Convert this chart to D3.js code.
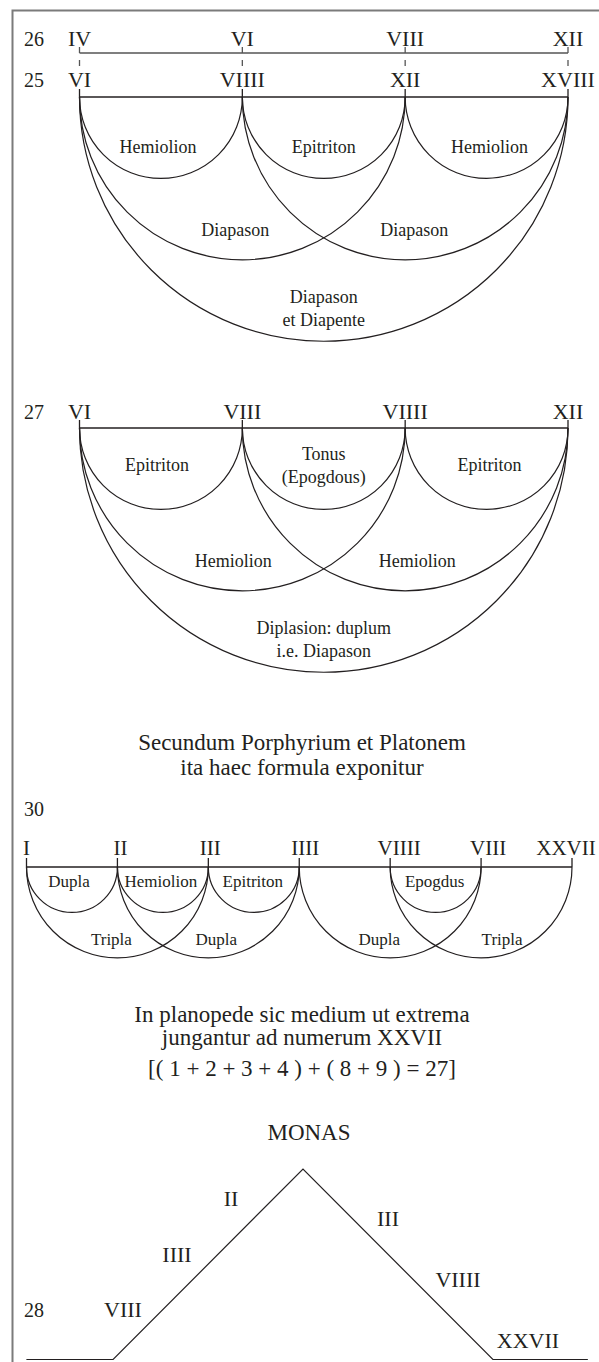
<!DOCTYPE html>
<meta charset="utf-8">
<script src="https://cdn.jsdelivr.net/npm/d3@7"></script>
<style>
  body { margin: 0; background: #fff; }
  text { font-family: "Liberation Serif", "Times New Roman", serif; fill: #231f20; }
</style>
<div id="chart"></div>
<script>
// ---------- data ----------
const row26 = ["IV", "VI", "VIII", "XII"];
const row25 = ["VI", "VIIII", "XII", "XVIII"];
const arcs25 = [
  {from: 0, to: 1, label: ["Hemiolion"]},
  {from: 1, to: 2, label: ["Epitriton"]},
  {from: 2, to: 3, label: ["Hemiolion"]},
  {from: 0, to: 2, label: ["Diapason"]},
  {from: 1, to: 3, label: ["Diapason"]},
  {from: 0, to: 3, label: ["Diapason", "et Diapente"]}
];
const row27 = ["VI", "VIII", "VIIII", "XII"];
const arcs27 = [
  {from: 0, to: 1, label: ["Epitriton"]},
  {from: 1, to: 2, label: ["Tonus", "(Epogdous)"]},
  {from: 2, to: 3, label: ["Epitriton"]},
  {from: 0, to: 2, label: ["Hemiolion"]},
  {from: 1, to: 3, label: ["Hemiolion"]},
  {from: 0, to: 3, label: ["Diplasion: duplum", "i.e. Diapason"]}
];
const row30 = ["I", "II", "III", "IIII", "VIIII", "VIII", "XXVII"];
const arcs30 = [
  {from: 0, to: 1, label: ["Dupla"]},
  {from: 1, to: 2, label: ["Hemiolion"]},
  {from: 2, to: 3, label: ["Epitriton"]},
  {from: 4, to: 5, label: ["Epogdus"]},
  {from: 0, to: 2, label: ["Tripla"]},
  {from: 1, to: 3, label: ["Dupla"]},
  {from: 3, to: 5, label: ["Dupla"]},
  {from: 4, to: 6, label: ["Tripla"]}
];
const lambdaLeft = ["II", "IIII", "VIII"];
const lambdaRight = ["III", "VIIII", "XXVII"];
const figNumbers = ["26", "25", "27", "30", "28"];
const title1 = ["Secundum Porphyrium et Platonem", "ita haec formula exponitur"];
const title2 = ["In planopede sic medium ut extrema", "jungantur ad numerum XXVII",
                "[( 1 + 2 + 3 + 4 ) + ( 8 + 9 ) = 27]"];
const apexLabel = "MONAS";

// ---------- layout ----------
const W = 599, H = 1362;
const ink = "#231f20";
const figY = [46, 87, 419, 816, 1317];

const svg = d3.select("#chart").append("svg")
    .attr("width", W)
    .attr("height", H);

// page frame (top + left rule)
svg.append("path")
    .attr("d", `M${W},10.5H12.5V${H}`)
    .attr("fill", "none")
    .attr("stroke", "#7b7b7b")
    .attr("stroke-width", 2);

// figure numbers
svg.selectAll(".fig")
  .data(figNumbers)
  .join("text")
    .attr("x", 24)
    .attr("y", (d, i) => figY[i])
    .attr("font-size", 20)
    .text(d => d);

// draws a row of numerals on a line with semicircles hanging under it
function arcDiagram(opt) {
  const g = svg.append("g");
  const n = opt.names.length;
  const x = d3.scaleLinear().domain([0, n - 1]).range(opt.range);
  const y0 = opt.lineY;

  g.append("line")
      .attr("x1", x(0)).attr("x2", x(n - 1))
      .attr("y1", y0).attr("y2", y0)
      .attr("stroke", opt.lineColor || ink)
      .attr("stroke-width", 1.3);

  g.selectAll(".tick")
    .data(opt.names)
    .join("line")
      .attr("x1", (d, i) => x(i)).attr("x2", (d, i) => x(i))
      .attr("y1", y0 - opt.tick).attr("y2", y0)
      .attr("stroke", opt.lineColor || ink)
      .attr("stroke-width", 1.3);

  g.selectAll(".name")
    .data(opt.names)
    .join("text")
      .attr("x", (d, i) => x(i) + (opt.nameDx ? opt.nameDx[i] : 0))
      .attr("y", opt.nameY)
      .attr("text-anchor", "middle")
      .attr("font-size", opt.nameSize)
      .text(d => d);

  if (!opt.arcs) return x;

  g.selectAll(".arc")
    .data(opt.arcs)
    .join("path")
      .attr("d", d => {
        const p = d3.path();
        const r = (x(d.to) - x(d.from)) / 2;
        p.moveTo(x(d.from), y0);
        p.arc(x(d.from) + r, y0, r, Math.PI, 0, true);
        return p.toString();
      })
      .attr("fill", "none")
      .attr("stroke", ink)
      .attr("stroke-width", 1.2);

  const lab = g.selectAll(".lab")
    .data(opt.arcs)
    .join("text")
      .attr("text-anchor", "middle")
      .attr("font-size", opt.labelSize)
      .attr("x", (d, i) => (x(d.from) + x(d.to)) / 2 + opt.shift[i])
      .attr("y", d => opt.labelY[d.to - d.from] - (d.label.length - 1) * opt.lineH / 2);
  lab.selectAll("tspan")
    .data(d => d.label)
    .join("tspan")
      .attr("x", function() { return this.parentNode.getAttribute("x"); })
      .attr("dy", (d, i) => i ? opt.lineH : 0)
      .text(d => d);
  return x;
}

// 26 : upper scale, grey, linked to 25 by a broken rule
const x26 = arcDiagram({
  names: row26, range: [79.5, 568], lineY: 53, nameY: 46, tick: 6,
  nameSize: 22, lineColor: "#555"
});
svg.selectAll(".dash")
  .data(row26)
  .join("line")
    .attr("x1", (d, i) => x26(i)).attr("x2", (d, i) => x26(i))
    .attr("y1", 60).attr("y2", 66)
    .attr("stroke", "#555")
    .attr("stroke-width", 1.3);

// 25
arcDiagram({
  names: row25, range: [79.5, 568], lineY: 97, nameY: 87, tick: 8,
  nameSize: 22, arcs: arcs25, labelSize: 18, lineH: 23.5,
  labelY: {1: 153, 2: 236, 3: 314.5},
  shift: [-3, 0, 3, -7, 9, 0]
});

// 27
arcDiagram({
  names: row27, range: [79.5, 568], lineY: 428, nameY: 419, tick: 8,
  nameSize: 22, arcs: arcs27, labelSize: 18, lineH: 23,
  labelY: {1: 471, 2: 567, 3: 645},
  shift: [-4, 0, 3, -9, 12, 0]
});

// titles
svg.selectAll(".t1")
  .data(title1)
  .join("text")
    .attr("x", 302)
    .attr("y", (d, i) => 750 + i * 25)
    .attr("text-anchor", "middle")
    .attr("font-size", 23)
    .text(d => d);

// 30
arcDiagram({
  names: row30, range: [26.5, 572], lineY: 867, nameY: 855, tick: 9,
  nameSize: 21, nameDx: [0, 3, 2, 6, 9, 7, -6],
  arcs: arcs30, labelSize: 17, lineH: 20,
  labelY: {1: 887, 2: 945},
  shift: [-3, -2, -1, -1, -6, 8, -11, 21]
});

svg.selectAll(".t2")
  .data(title2)
  .join("text")
    .attr("x", 302)
    .attr("y", (d, i) => [1022, 1045, 1076][i])
    .attr("text-anchor", "middle")
    .attr("font-size", 23)
    .text(d => d);

// 28 : the lambda (MONAS at the apex, doubles left, triples right)
const steps = lambdaLeft.length;
const lx = d3.scaleLinear().domain([0, 1]).range([303, 366.3]);
const ly = d3.scaleLinear().domain([0, 1]).range([1169, 1232.5]);
const baseExt = {left: 1.37, right: 1.5};
const lambdaPts = [
  [-steps - baseExt.left, steps], [-steps, steps], [0, 0],
  [steps, steps], [steps + baseExt.right, steps]
];
svg.append("path")
    .datum(lambdaPts)
    .attr("d", d3.line().x(d => lx(d[0])).y(d => ly(d[1])))
    .attr("fill", "none")
    .attr("stroke", ink)
    .attr("stroke-width", 1.2);

svg.append("text")
    .attr("x", 309).attr("y", 1140)
    .attr("text-anchor", "middle")
    .attr("font-size", 23)
    .text(apexLabel);

const leftX = d3.scaleLinear().domain([1, 3]).range([231, 123]);
const leftY = d3.scaleLinear().domain([1, 3]).range([1206, 1317]);
const rightX = d3.scaleLinear().domain([1, 3]).range([388, 528]);
const rightY = d3.scaleLinear().domain([1, 3]).range([1226, 1348]);

svg.selectAll(".ll")
  .data(lambdaLeft)
  .join("text")
    .attr("x", (d, i) => leftX(i + 1))
    .attr("y", (d, i) => leftY(i + 1))
    .attr("text-anchor", "middle")
    .attr("font-size", 22)
    .text(d => d);

svg.selectAll(".lr")
  .data(lambdaRight)
  .join("text")
    .attr("x", (d, i) => rightX(i + 1))
    .attr("y", (d, i) => rightY(i + 1))
    .attr("text-anchor", "middle")
    .attr("font-size", 22)
    .text(d => d);
</script>
